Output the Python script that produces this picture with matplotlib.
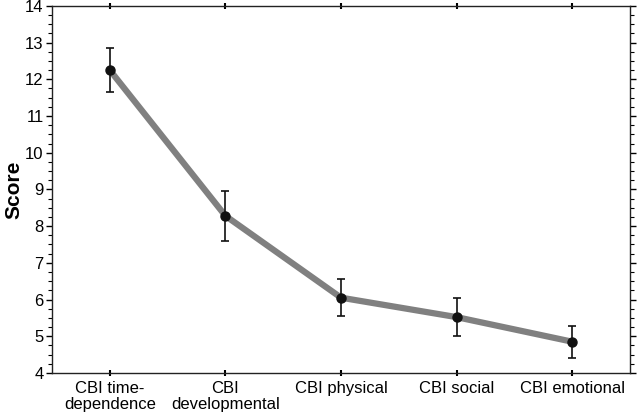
import matplotlib
matplotlib.use("Agg")
import matplotlib.pyplot as plt
from matplotlib.ticker import MultipleLocator

categories = ["CBI time-\ndependence", "CBI\ndevelopmental", "CBI physical", "CBI social", "CBI emotional"]
means = [12.25, 8.28, 6.05, 5.52, 4.85]
errors = [0.60, 0.68, 0.50, 0.52, 0.44]

plt.rcParams['font.family'] = ['Liberation Sans', 'DejaVu Sans']

fig = plt.figure(figsize=(6.38, 4.19), dpi=100)
ax = fig.add_axes([0.0815, 0.11, 0.906, 0.876])

x = list(range(len(categories)))
ax.plot(x, means, color="#808080", lw=4.5, solid_capstyle="butt", zorder=2)
ax.errorbar(x, means, yerr=errors, fmt="o", color="#111111", ms=6.5,
            ecolor="#111111", elinewidth=1.2, capsize=3, capthick=1.2, zorder=3)

ax.set_xlim(-0.5, 4.5)
ax.set_ylim(4, 14)
ax.set_xticks(x)
ax.set_xticklabels(categories, fontsize=12, linespacing=1.1)
ax.yaxis.set_major_locator(MultipleLocator(1))
ax.yaxis.set_minor_locator(MultipleLocator(0.25))
ax.tick_params(axis="y", which="major", direction="out", length=4, width=1, labelsize=12, right=True, pad=2)
ax.tick_params(axis="y", which="minor", direction="out", length=3, width=0.8, right=True)
ax.tick_params(axis="x", which="major", direction="inout", length=4, width=1.5, top=True, labelsize=12, pad=4)
ax.set_ylabel("Score", fontsize=15, fontweight="bold")
ax.yaxis.set_label_coords(-0.05, 0.5)
for s in ax.spines.values():
    s.set_linewidth(1.0)
    s.set_color("#222222")

fig.savefig("out.png", dpi=100)
